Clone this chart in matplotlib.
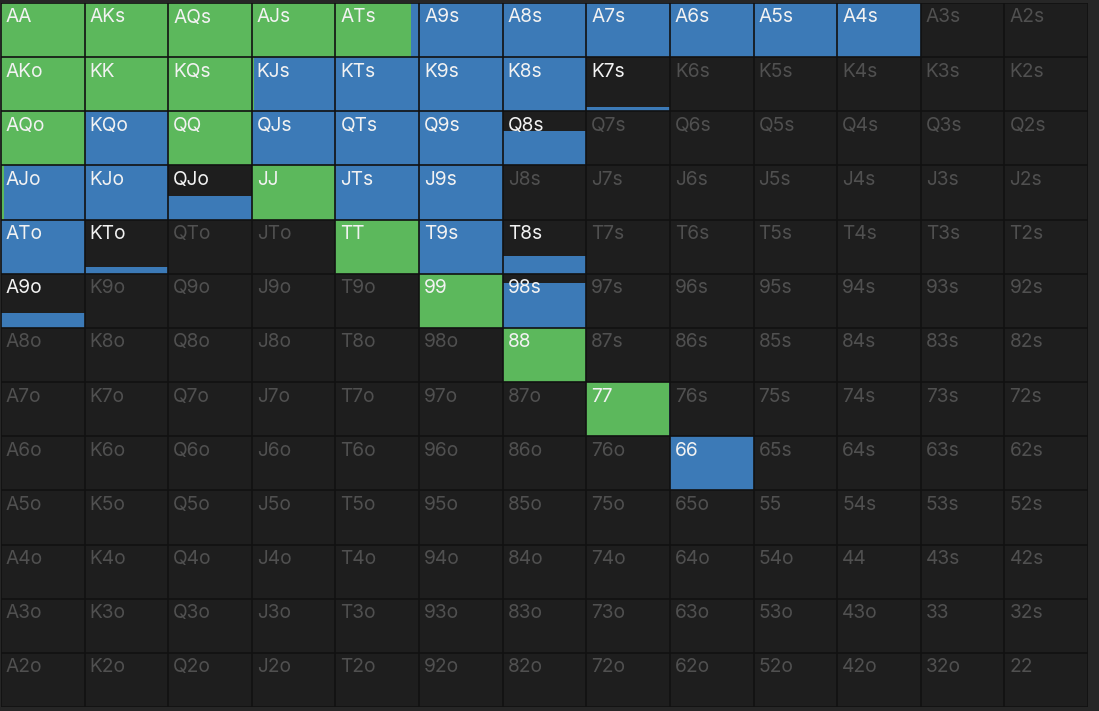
import matplotlib
matplotlib.use("Agg")
import matplotlib.pyplot as plt
from matplotlib.patches import Rectangle

ranks = ["A", "K", "Q", "J", "T", "9", "8", "7", "6", "5", "4", "3", "2"]

# raise (green) and call (blue) frequencies per hand
raise_freq = {
    "AA": 1.0, "AKs": 1.0, "AQs": 1.0, "AJs": 1.0, "ATs": 0.9,
    "AKo": 1.0, "KK": 1.0, "KQs": 1.0, "KJs": 0.03,
    "AQo": 1.0, "QQ": 1.0,
    "AJo": 0.04, "JJ": 1.0,
    "TT": 1.0, "99": 1.0, "88": 1.0, "77": 0.99,
}
call_freq = {
    "ATs": 0.1, "A9s": 1.0, "A8s": 1.0, "A7s": 1.0, "A6s": 1.0, "A5s": 1.0, "A4s": 1.0,
    "KJs": 0.97, "KTs": 1.0, "K9s": 1.0, "K8s": 1.0, "K7s": 0.08,
    "KQo": 1.0, "QJs": 1.0, "QTs": 1.0, "Q9s": 1.0, "Q8s": 0.63,
    "AJo": 0.96, "KJo": 1.0, "QJo": 0.43, "JTs": 1.0, "J9s": 1.0,
    "ATo": 1.0, "KTo": 0.12, "T9s": 1.0, "T8s": 0.33,
    "A9o": 0.27, "98s": 0.83,
    "77": 0.01, "66": 1.0,
}

GREEN = "#5cb85c"
BLUE = "#3c7ab7"
CELL_BG = "#1e1e1e"
GRID = "#111111"
FIG_BG = "#262626"
ACTIVE_TXT = "#f2f2f2"
IDLE_TXT = "#505050"

W, H = 1099, 711
fig = plt.figure(figsize=(W / 100, H / 100), dpi=100, facecolor=FIG_BG)
x0, x1, y0, y1 = 1, 1088, 3, 707
ax = fig.add_axes([x0 / W, 1 - y1 / H, (x1 - x0) / W, (y1 - y0) / H])
ax.set_xlim(0, 13)
ax.set_ylim(13, 0)
ax.axis("off")
ax.set_facecolor(CELL_BG)

n = len(ranks)
cell_w_px = (x1 - x0) / n
cell_h_px = (y1 - y0) / n
dx = 5 / cell_w_px
dy = 5.5 / cell_h_px

for i in range(n):
    for j in range(n):
        if i == j:
            hand = ranks[i] + ranks[j]
        elif j > i:
            hand = ranks[i] + ranks[j] + "s"
        else:
            hand = ranks[j] + ranks[i] + "o"
        r = raise_freq.get(hand, 0.0)
        c = call_freq.get(hand, 0.0)
        tot = r + c
        ax.add_patch(Rectangle((j, i), 1, 1, facecolor=CELL_BG, edgecolor="none"))
        if tot > 0:
            h = min(tot, 1.0)
            wr = r / tot
            if r > 0:
                ax.add_patch(Rectangle((j, i + 1 - h), wr, h, facecolor=GREEN, edgecolor="none"))
            if c > 0:
                ax.add_patch(Rectangle((j + wr, i + 1 - h), 1 - wr, h, facecolor=BLUE, edgecolor="none"))
        ax.text(j + dx, i + dy, hand, ha="left", va="top", fontsize=13.8,
                family=["Inter", "DejaVu Sans"],
                color=ACTIVE_TXT if tot > 0 else IDLE_TXT)

for k in range(n + 1):
    ax.axhline(k, color=GRID, lw=1.2, zorder=5)
    ax.axvline(k, color=GRID, lw=1.2, zorder=5)

fig.savefig("out.png", dpi=100, facecolor=FIG_BG)
